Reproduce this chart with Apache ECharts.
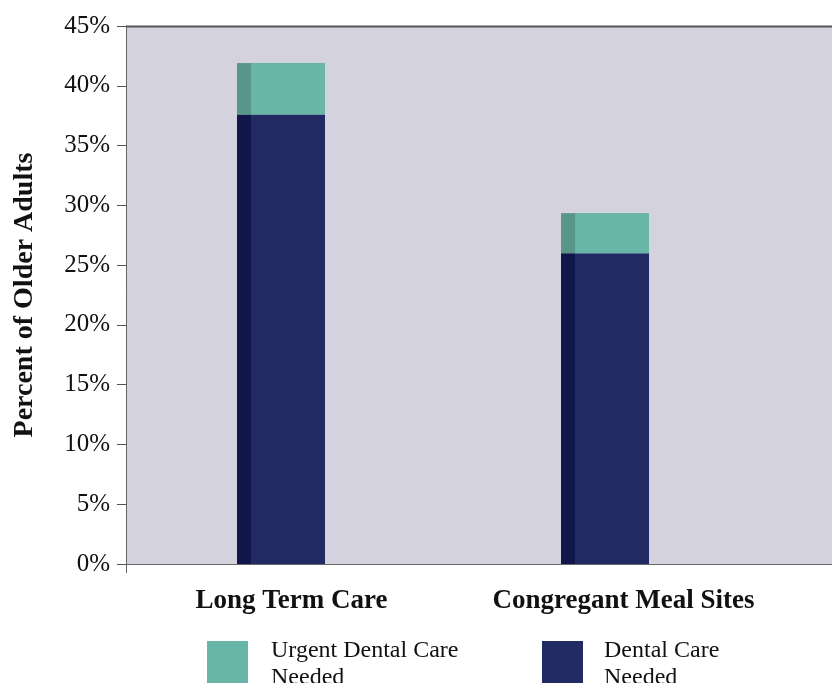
<!DOCTYPE html>
<html>
<head>
<meta charset="utf-8">
<script src="https://cdn.jsdelivr.net/npm/echarts@6/dist/echarts.min.js"></script>
<style>
html,body{margin:0;padding:0;background:#fff;}
#chart{width:832px;height:683px;}
</style>
</head>
<body>
<div id="chart"></div>
<script>
var categories = ['Long Term Care', 'Congregant Meal Sites'];
var dentalCareNeeded = [37.6, 26.0];
var urgentDentalCareNeeded = [4.3, 3.35];
var yTicks = [0, 5, 10, 15, 20, 25, 30, 35, 40, 45];

var SERIF = '"Liberation Serif", "Times New Roman", serif';
var chart = echarts.init(document.getElementById('chart'));

var option = {
  animation: false,
  grid: { left: 119, top: 26, width: 648, bottom: 119 },
  legend: [
    {
      data: ['Urgent Dental Care\nNeeded'],
      left: 207, top: 637, padding: 0,
      icon: 'rect', itemWidth: 41, itemHeight: 46,
      selectedMode: false,
      textStyle: { fontFamily: SERIF, fontSize: 24, color: '#111', lineHeight: 27, padding: [0, 0, 0, 18] }
    },
    {
      data: ['Dental Care\nNeeded'],
      left: 542, top: 637, padding: 0,
      icon: 'rect', itemWidth: 41, itemHeight: 46,
      selectedMode: false,
      textStyle: { fontFamily: SERIF, fontSize: 24, color: '#111', lineHeight: 27, padding: [0, 0, 0, 16] }
    }
  ],
  xAxis: {
    type: 'category',
    data: categories,
    axisLine: { show: false },
    axisTick: { show: false },
    axisLabel: {
      margin: 24,
      formatter: function (v, i) { return i === 0 ? '{a|' + v + '}' : '{b|' + v + '}'; },
      rich: {
        a: { fontFamily: SERIF, fontSize: 27, fontWeight: 'bold', color: '#111', padding: [0, 0, 0, 21] },
        b: { fontFamily: SERIF, fontSize: 27, fontWeight: 'bold', color: '#111', padding: [0, 0, 0, 37] }
      }
    }
  },
  yAxis: {
    type: 'value',
    min: yTicks[0], max: yTicks[yTicks.length - 1], interval: 5,
    offset: -7,
    name: 'Percent of Older Adults',
    nameLocation: 'middle',
    nameGap: 87,
    nameRotate: 90,
    nameTextStyle: { fontFamily: SERIF, fontSize: 28, fontWeight: 'bold', color: '#111' },
    axisLine: { show: true, lineStyle: { color: '#666', width: 1 } },
    axisTick: { show: true, length: 9, lineStyle: { color: '#555' } },
    splitLine: { show: false },
    axisLabel: {
      margin: 16,
      formatter: '{value}%',
      fontFamily: SERIF, fontSize: 25, color: '#111'
    }
  },
  graphic: [
    { type: 'rect', z: -10, silent: true, shape: { x: 126, y: 26, width: 706, height: 538 }, style: { fill: '#D4D2DE' } },
    { type: 'line', z: 10, silent: true, shape: { x1: 126, y1: 26.5, x2: 832, y2: 26.5 }, style: { stroke: '#555', lineWidth: 2 } },
    { type: 'line', z: 10, silent: true, shape: { x1: 126, y1: 564.5, x2: 832, y2: 564.5 }, style: { stroke: '#666', lineWidth: 1 } },
    { type: 'line', z: 10, silent: true, shape: { x1: 126.5, y1: 564, x2: 126.5, y2: 573 }, style: { stroke: '#666', lineWidth: 1 } }
  ],
  series: [
    { name: 'side-dental', type: 'bar', stack: 'side', barWidth: 14, barGap: 0, data: dentalCareNeeded,
      itemStyle: { color: '#11164A' } },
    { name: 'side-urgent', type: 'bar', stack: 'side', barWidth: 14, barGap: 0, data: urgentDentalCareNeeded,
      itemStyle: { color: '#58968A' } },
    { name: 'Dental Care\nNeeded', type: 'bar', stack: 'face', barWidth: 74, barGap: 0, data: dentalCareNeeded,
      itemStyle: { color: '#222A63' } },
    { name: 'Urgent Dental Care\nNeeded', type: 'bar', stack: 'face', barWidth: 74, barGap: 0, data: urgentDentalCareNeeded,
      itemStyle: { color: '#67B6A8' } }
  ]
};
chart.setOption(option);
</script>
</body>
</html>
